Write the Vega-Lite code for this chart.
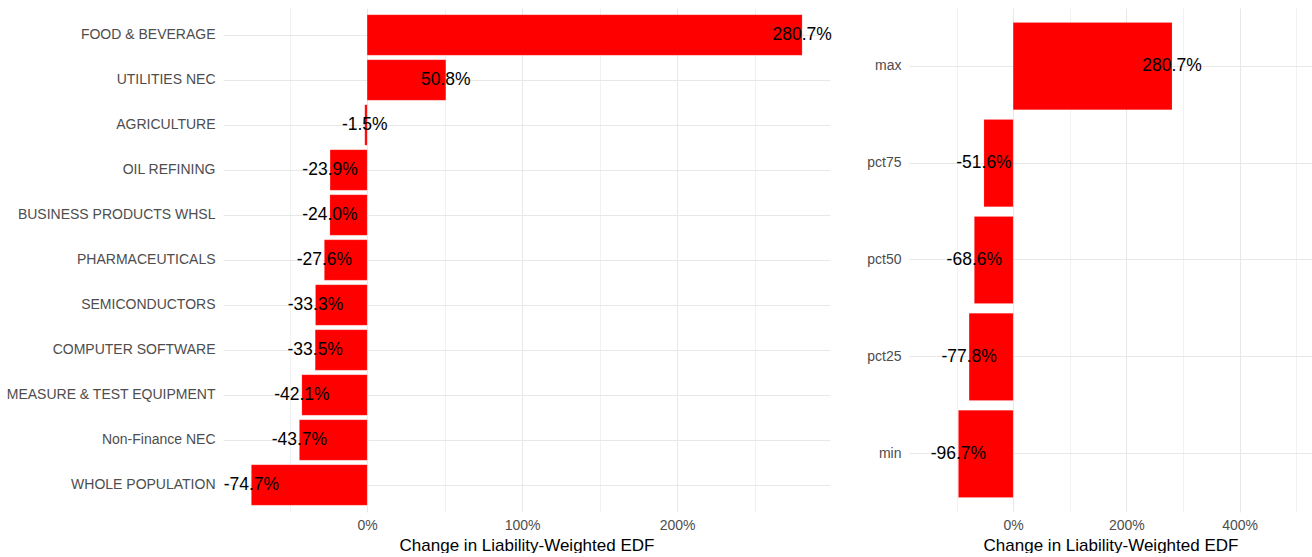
{
  "$schema": "https://vega.github.io/schema/vega-lite/v6.json",
  "padding": {"left": 5, "top": 8, "right": 0, "bottom": 0},
  "background": "white",
  "bounds": "flush",
  "spacing": 79,
  "config": {
    "view": {"stroke": null},
    "font": "Liberation Sans",
    "axis": {"domain": false, "ticks": false, "gridColor": "#e8e8e8", "labelColor": "#4d4d4d", "labelFont": "Liberation Sans", "titleFont": "Liberation Sans", "titleFontWeight": "normal", "titleColor": "#000000", "labelLimit": 400}
  },
  "datasets": {
    "sectors": [
      {"sector": "FOOD & BEVERAGE", "change": 280.7, "label": "280.7%"},
      {"sector": "UTILITIES NEC", "change": 50.8, "label": "50.8%"},
      {"sector": "AGRICULTURE", "change": -1.5, "label": "-1.5%"},
      {"sector": "OIL REFINING", "change": -23.9, "label": "-23.9%"},
      {"sector": "BUSINESS PRODUCTS WHSL", "change": -24.0, "label": "-24.0%"},
      {"sector": "PHARMACEUTICALS", "change": -27.6, "label": "-27.6%"},
      {"sector": "SEMICONDUCTORS", "change": -33.3, "label": "-33.3%"},
      {"sector": "COMPUTER SOFTWARE", "change": -33.5, "label": "-33.5%"},
      {"sector": "MEASURE & TEST EQUIPMENT", "change": -42.1, "label": "-42.1%"},
      {"sector": "Non-Finance NEC", "change": -43.7, "label": "-43.7%"},
      {"sector": "WHOLE POPULATION", "change": -74.7, "label": "-74.7%"}
    ],
    "stats": [
      {"stat": "max", "change": 280.7, "label": "280.7%"},
      {"stat": "pct75", "change": -51.6, "label": "-51.6%"},
      {"stat": "pct50", "change": -68.6, "label": "-68.6%"},
      {"stat": "pct25", "change": -77.8, "label": "-77.8%"},
      {"stat": "min", "change": -96.7, "label": "-96.7%"}
    ]
  },
  "hconcat": [
    {
      "width": 607,
      "height": 504,
      "data": {"name": "sectors"},
      "encoding": {
        "y": {"field": "sector", "type": "nominal", "sort": null,
          "scale": {"paddingInner": 0.1, "paddingOuter": 0.15},
          "axis": {"title": null, "labelFontSize": 14, "labelPadding": 8, "grid": true, "bandPosition": 0.5, "gridWidth": 1.1}},
        "x": {"field": "change", "type": "quantitative",
          "scale": {"domain": [-93, 298.7], "nice": false, "zero": false},
          "axis": {"title": "Change in Liability-Weighted EDF", "titleFontSize": 17, "titlePadding": 5, "labelFontSize": 14, "labelPadding": 6,
            "values": [-50, 0, 50, 100, 150, 200, 250],
            "labelExpr": "datum.value % 100 == 0 ? datum.value + '%' : ''",
            "gridWidth": {"condition": {"test": "datum.value % 100 == 0", "value": 1.1}, "value": 0.6}}}
      },
      "layer": [
        {"mark": {"type": "bar", "color": "#ff0000", "stroke": "#ffffff", "strokeWidth": 0.3, "strokeOpacity": 0.5}},
        {"mark": {"type": "text", "fontSize": 17.5, "color": "#000000", "align": "center", "baseline": "middle"},
          "encoding": {"text": {"field": "label"}}}
      ]
    },
    {
      "width": 403,
      "height": 504,
      "data": {"name": "stats"},
      "encoding": {
        "y": {"field": "stat", "type": "nominal", "sort": null,
          "scale": {"paddingInner": 0.1, "paddingOuter": 0.15},
          "axis": {"title": null, "labelFontSize": 14, "labelPadding": 8, "grid": true, "bandPosition": 0.5, "gridWidth": 1.1}},
        "x": {"field": "change", "type": "quantitative",
          "scale": {"domain": [-184, 528], "nice": false, "zero": false},
          "axis": {"title": "Change in Liability-Weighted EDF", "titleFontSize": 17, "titlePadding": 5, "labelFontSize": 14, "labelPadding": 6,
            "values": [-100, 0, 100, 200, 300, 400, 500],
            "labelExpr": "datum.value % 200 == 0 ? datum.value + '%' : ''",
            "gridWidth": {"condition": {"test": "datum.value % 200 == 0", "value": 1.1}, "value": 0.6}}}
      },
      "layer": [
        {"mark": {"type": "bar", "color": "#ff0000", "stroke": "#ffffff", "strokeWidth": 0.3, "strokeOpacity": 0.5}},
        {"mark": {"type": "text", "fontSize": 17.5, "color": "#000000", "align": "center", "baseline": "middle"},
          "encoding": {"text": {"field": "label"}}}
      ]
    }
  ]
}
